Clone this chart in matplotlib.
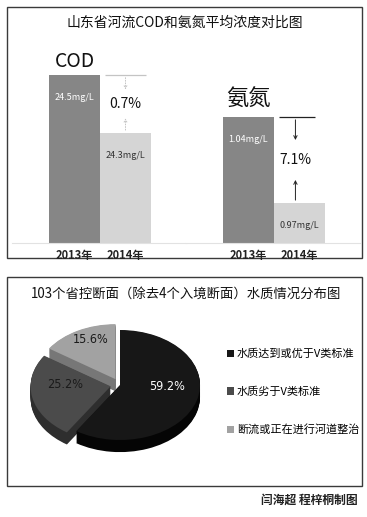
import numpy as np
import matplotlib
matplotlib.use("Agg")
import matplotlib.pyplot as plt
from matplotlib.patches import Rectangle

plt.rcParams['font.family'] = ['Noto Sans CJK SC', 'DejaVu Sans']

# ---- data ----
years = ['2013年', '2014年']
cod_vals = [24.5, 24.3]
nh3_vals = [1.04, 0.97]
cod_change = '0.7%'
nh3_change = '7.1%'
top_title = '山东省河流COD和氨氮平均浓度对比图'

pie_title = '103个省控断面（除去4个入境断面）水质情况分布图'
pie_labels = ['水质达到或优于V类标准', '水质劣于V类标准', '断流或正在进行河道整治']
pie_shares = [59.2, 25.2, 15.6]
credit = '闫海超 程梓桐制图'

# ---- layout helpers (pixels) ----
W, H = 367, 517
fig = plt.figure(figsize=(W / 100, H / 100), dpi=100)


def px_axes(x0, y0, x1, y1):
    return fig.add_axes([x0 / W, 1 - y1 / H, (x1 - x0) / W, (y1 - y0) / H])


bg = fig.add_axes([0, 0, 1, 1])
bg.set_xlim(0, W)
bg.set_ylim(H, 0)
bg.axis('off')
for (x0, y0, x1, y1) in [(7, 7, 362, 258), (7, 277, 362, 486)]:
    bg.add_patch(Rectangle((x0, y0), x1 - x0, y1 - y0, fill=False,
                           ec='#3a3a3a', lw=1.0))
bg.text(185, 23, top_title, ha='center', va='center', fontsize=10, color='#111')
bg.text(186, 294, pie_title, ha='center', va='center', fontsize=9.6, color='#111')
bg.text(358, 500, credit, ha='right', va='center', fontsize=8.5,
        fontweight='bold', color='#222')

# ---- bar charts ----
bar_colors = ['#868686', '#d5d5d5']
unit = 51  # px per bar


def bar_group(x0, x1, c0, vals, ylim, name, name_size, name_off, change,
              xa, line_x, style):
    ax = px_axes(x0, 30, x1, 243)
    ax.set_xlim(-(c0 - x0) / unit, (x1 - c0) / unit)
    ax.set_ylim(*ylim)
    ax.bar([0, 1], vals, width=1, color=bar_colors)
    for s in ['top', 'left', 'right']:
        ax.spines[s].set_visible(False)
    ax.spines['bottom'].set_color('#e2e2e2')
    ax.set_yticks([])
    ax.set_xticks([0, 1])
    ax.set_xticklabels(years, fontsize=8, fontweight='bold', color='#222')
    ax.tick_params(axis='x', length=0, pad=4)
    for i, v in enumerate(vals):
        ax.annotate(f'{v}mg/L', (i, v), xytext=(0, -16),
                    textcoords='offset points', ha='center', va='center',
                    fontsize=6.5, color='white' if i == 0 else '#333')
    ax.annotate(name, (0, vals[0]), xytext=(0, name_off),
                textcoords='offset points', ha='center', va='center',
                fontsize=name_size, color='#111')
    v0, v1 = vals
    ax.hlines(v0, line_x[0], line_x[1], color=style['color'], lw=0.9)
    props = dict(arrowstyle='->', color=style['color'], lw=0.7,
                 ls=style['ls'], mutation_scale=style['ms'])
    ax.annotate('', xy=(xa, v0 + 0.3 * (v1 - v0)), xytext=(xa, v0),
                arrowprops=props)
    ax.annotate('', xy=(xa, v1 + 0.3 * (v0 - v1)), xytext=(xa, v1),
                arrowprops=props)
    ax.text(xa, (v0 + v1) / 2, change, ha='center', va='center',
            fontsize=10, color='#111')
    return ax


bar_group(12, 186, 74.5, cod_vals, (23.92, 24.655), 'COD', 14, 10,
          cod_change, 1.0, (0.6, 1.4),
          dict(color='#c4c4c4', ls=':', ms=5))
bar_group(186, 360, 248, nh3_vals, (0.9373, 1.111), '氨氮', 16, 13,
          nh3_change, 0.93, (0.6, 1.32),
          dict(color='#222222', ls='-', ms=6))

# ---- pie chart (pseudo 3D) ----
pax = px_axes(20, 315, 220, 465)
top_colors = ['#171717', '#4b4b4b', '#a2a2a2']
side_colors = ['#050505', '#2e2e2e', '#777777']
explode = [0, 0.12, 0.12]
depth = 0.22

for d in np.linspace(depth, 0.01, 14):
    pax.pie(pie_shares, explode=explode, startangle=90, counterclock=False,
            colors=side_colors, center=(0, -d), wedgeprops=dict(linewidth=0))
wedges, _ = pax.pie(pie_shares, explode=explode, startangle=90,
                    counterclock=False, colors=top_colors,
                    wedgeprops=dict(linewidth=0))
pax.set_aspect('auto')
pax.set_xlim(-1.25, 1.25)
pax.set_ylim(-80 / 55, 70 / 55)

label_r = [0.62, 0.58, 0.65]
label_colors = ['white', '#1a1a1a', '#1a1a1a']
for w, share, r, c in zip(wedges, pie_shares, label_r, label_colors):
    m = np.deg2rad((w.theta1 + w.theta2) / 2)
    cx, cy = w.center
    pax.text(cx + r * np.cos(m), cy + r * np.sin(m) + 0.15, f'{share}%',
             ha='center', va='center', fontsize=9, color=c,
             family='DejaVu Sans', fontstretch='condensed')

pax.legend(wedges, pie_labels, loc='upper left',
           bbox_to_anchor=(227 / W, 1 - 349 / H), bbox_transform=fig.transFigure,
           frameon=False, prop={'size': 8}, labelspacing=2.45,
           handlelength=0.6, handleheight=0.6, handletextpad=0.3,
           borderpad=0, borderaxespad=0)

fig.savefig('out.png', dpi=100)
